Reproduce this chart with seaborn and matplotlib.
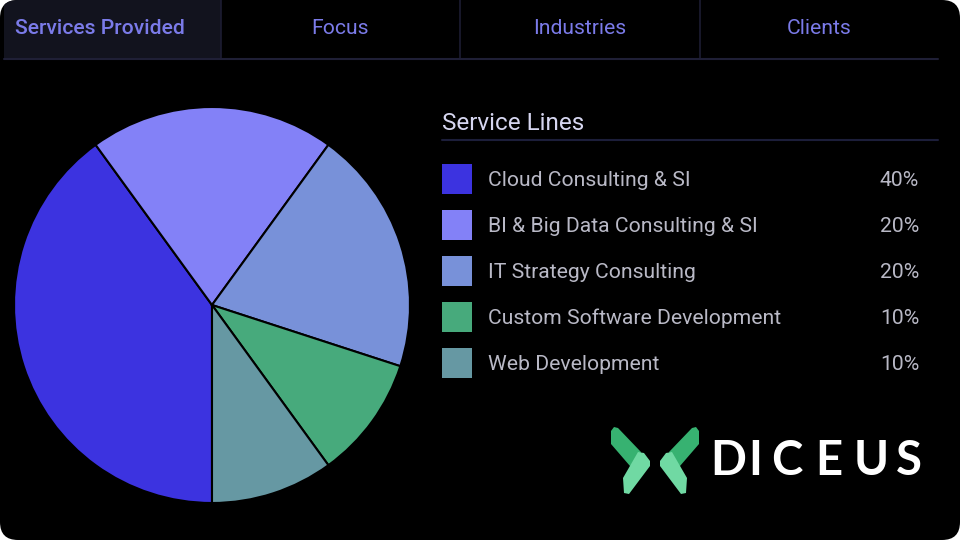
import matplotlib
matplotlib.use("Agg")
import matplotlib.pyplot as plt
import seaborn as sns
from matplotlib.patches import FancyBboxPatch, Rectangle, Polygon

# data
services = ["Cloud Consulting & SI", "BI & Big Data Consulting & SI",
            "IT Strategy Consulting", "Custom Software Development",
            "Web Development"]
shares = [40, 20, 20, 10, 10]
colors = ["#3c33e0", "#8381f7", "#7891d9", "#47aa7c", "#6698a3"]
tabs = ["Services Provided", "Focus", "Industries", "Clients"]

sns.set_theme(style="dark")
plt.rcParams["font.family"] = ["Roboto", "DejaVu Sans"]

fig = plt.figure(figsize=(9.6, 5.4), dpi=100, facecolor="white")

# background layer in pixel coordinates
bg = fig.add_axes([0, 0, 1, 1])
bg.set_xlim(0, 960)
bg.set_ylim(540, 0)
bg.axis("off")
bg.set_facecolor("none")

card = FancyBboxPatch((0, 0), 960, 540, boxstyle="round,pad=0,rounding_size=18",
                      facecolor="black", edgecolor="none")
bg.add_patch(card)

# tabs
active = Rectangle((4, 0), 217, 58, facecolor="#12131e", edgecolor="none")
bg.add_patch(active)
active.set_clip_path(card)
for x in [221, 460, 700]:
    bg.plot([x, x], [0, 58], color="#1c1c32", lw=1.2)
bg.plot([4, 938], [58.5, 58.5], color="#1f1f36", lw=1.5)

bg.text(15, 29, tabs[0], color="#7b7be9", fontsize=15.2, fontweight="medium",
        ha="left", va="center")
for name, cx in zip(tabs[1:], [340, 580, 819]):
    bg.text(cx, 29, name, color="#7b7be9", fontsize=15.2, ha="center", va="center")

# legend block
bg.text(442, 123, "Service Lines", color="#d6d6f0", fontsize=17.5, ha="left", va="center")
bg.plot([442, 938], [140, 140], color="#1c1e3a", lw=1.5)
for i, (name, pct, c) in enumerate(zip(services, shares, colors)):
    y = 179 + i * 46
    bg.add_patch(Rectangle((442, y - 15), 30, 30, facecolor=c, edgecolor="none"))
    bg.text(488, y + 1.5, name, color="#b9b9c6", fontsize=15.2, ha="left", va="center")
    bg.text(919, y + 1.5, f"{pct}%", color="#b9b9c6", fontsize=15.2, ha="right", va="center")

# logo
dark_g, light_g = "#37b271", "#70d9a3"
left_top = [(611, 431), (614, 427), (618, 428), (641, 452), (636, 465),
            (630, 466), (611, 444)]
left_bot = [(638, 452), (644, 453), (650, 461), (650, 466), (629, 494),
            (624, 493), (623, 478)]
for poly, col in [(left_top, dark_g), (left_bot, light_g)]:
    bg.add_patch(Polygon(poly, closed=True, facecolor=col, edgecolor="none"))
    mirrored = [(1310 - x, y) for x, y in poly]
    bg.add_patch(Polygon(mirrored, closed=True, facecolor=col, edgecolor="none"))
for ch, cx in zip("DICEUS", [728, 755, 787, 829, 871, 909]):
    bg.text(cx, 461, ch, color="white", fontsize=34, fontweight="bold",
            family=["Lato", "DejaVu Sans"], ha="center", va="center")

# pie
ax = fig.add_axes([14 / 960, 37 / 540, 396 / 960, 396 / 540])
ax.pie(shares, colors=colors, startangle=270, counterclock=False,
       wedgeprops=dict(edgecolor="black", linewidth=1.5))
ax.set_xlim(-1, 1)
ax.set_ylim(-1, 1)
ax.set_aspect("equal")
ax.axis("off")

fig.savefig("out.png", dpi=100, facecolor="white")
